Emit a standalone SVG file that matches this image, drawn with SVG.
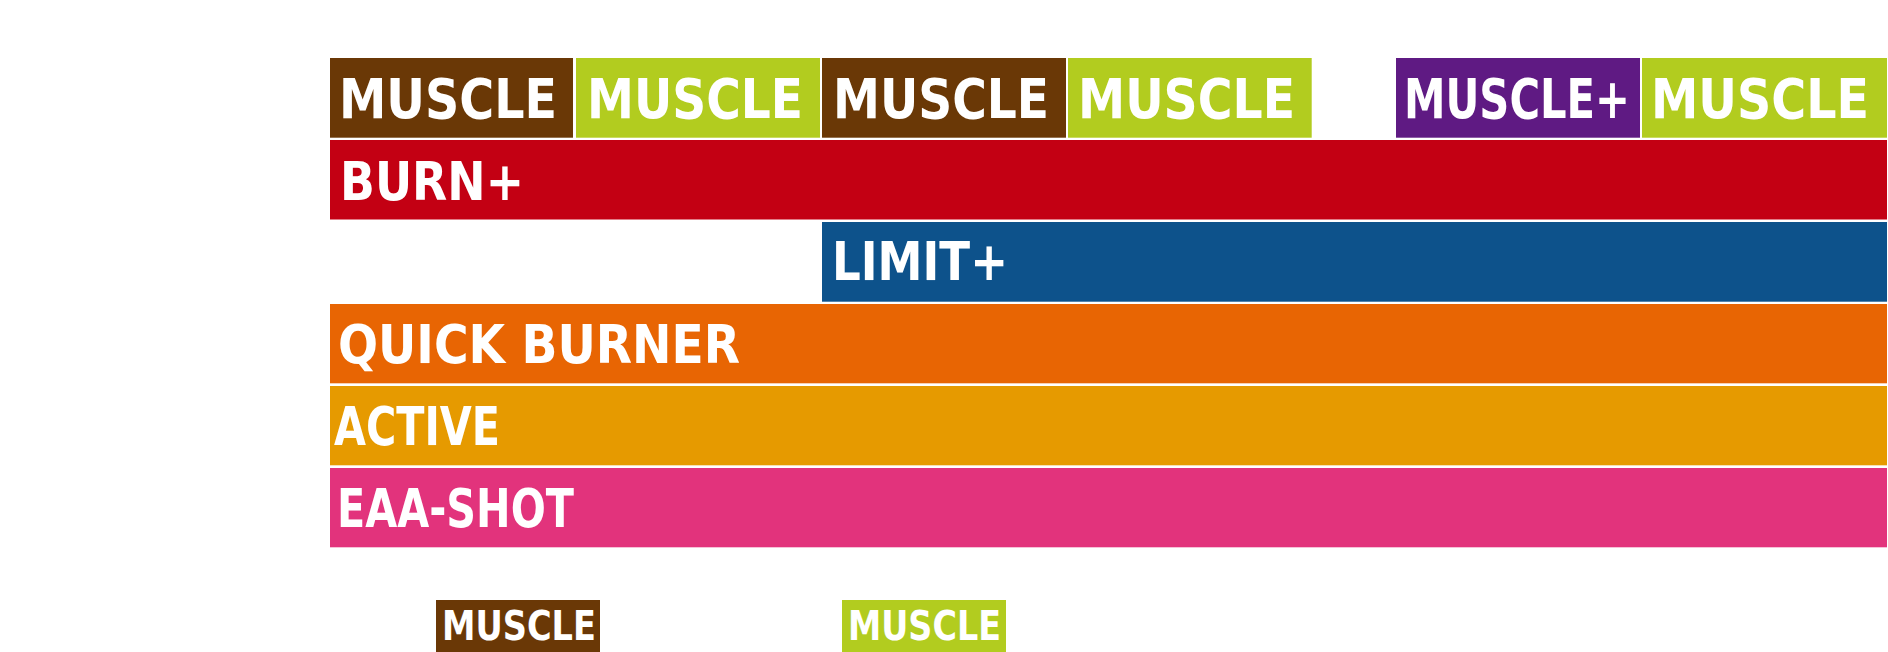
<svg xmlns="http://www.w3.org/2000/svg" width="1888" height="652" viewBox="0 0 1888 652">
<style>
.t{font-family:"DejaVu Sans Condensed","DejaVu Sans",sans-serif;font-weight:bold;fill:#ffffff}
.big{font-size:55px}
.mid{font-size:53px}
.sm{font-size:40px}
.brown{fill:#6a3806}
.lime{fill:#b2cc1f}
.purple{fill:#5f1a83}
.red{fill:#c30013}
.blue{fill:#0d528b}
.orange{fill:#e86503}
.amber{fill:#e69a00}
.pink{fill:#e2337c}
</style>
<rect width="1888" height="652" fill="#ffffff"/>
<g id="muscle-1"><rect class="brown" x="330" y="58" width="243" height="79.7"/><text class="t big" x="339" y="118" textLength="218" lengthAdjust="spacingAndGlyphs">MUSCLE</text></g>
<g id="muscle-2"><rect class="lime" x="576" y="58" width="244" height="79.7"/><text class="t big" x="587" y="118" textLength="216" lengthAdjust="spacingAndGlyphs">MUSCLE</text></g>
<g id="muscle-3"><rect class="brown" x="822" y="58" width="244" height="79.7"/><text class="t big" x="833" y="118" textLength="216" lengthAdjust="spacingAndGlyphs">MUSCLE</text></g>
<g id="muscle-4"><rect class="lime" x="1068" y="58" width="243.7" height="79.7"/><text class="t big" x="1078" y="118" textLength="217" lengthAdjust="spacingAndGlyphs">MUSCLE</text></g>
<g id="muscle-plus"><rect class="purple" x="1396" y="58" width="244" height="79.7"/><text class="t big" x="1404" y="118" textLength="226" lengthAdjust="spacingAndGlyphs">MUSCLE+</text></g>
<g id="muscle-5"><rect class="lime" x="1642" y="58" width="245" height="79.7"/><text class="t big" x="1651" y="118" textLength="218" lengthAdjust="spacingAndGlyphs">MUSCLE</text></g>
<g id="burn"><rect class="red" x="330" y="140" width="1557" height="79.5"/><text class="t mid" x="340" y="199.5" textLength="184" lengthAdjust="spacingAndGlyphs">BURN+</text></g>
<g id="limit"><rect class="blue" x="822" y="222" width="1065" height="79.7"/><text class="t mid" x="832" y="279.5" textLength="176" lengthAdjust="spacingAndGlyphs">LIMIT+</text></g>
<g id="quick-burner"><rect class="orange" x="330" y="304" width="1557" height="79.3"/><text class="t mid" x="338" y="362.7" textLength="402" lengthAdjust="spacingAndGlyphs">QUICK BURNER</text></g>
<g id="active"><rect class="amber" x="330" y="386" width="1557" height="79.3"/><text class="t mid" x="334" y="445" textLength="166" lengthAdjust="spacingAndGlyphs">ACTIVE</text></g>
<g id="eaa-shot"><rect class="pink" x="330" y="468" width="1557" height="79.3"/><text class="t mid" x="337" y="526.7" textLength="237" lengthAdjust="spacingAndGlyphs">EAA-SHOT</text></g>
<g id="legend-muscle-brown"><rect class="brown" x="436" y="600" width="164" height="60"/><text class="t sm" x="442" y="640" textLength="154" lengthAdjust="spacingAndGlyphs">MUSCLE</text></g>
<g id="legend-muscle-lime"><rect class="lime" x="842" y="600" width="164" height="60"/><text class="t sm" x="848" y="640" textLength="153" lengthAdjust="spacingAndGlyphs">MUSCLE</text></g>
<g id="connectors"></g>
</svg>
